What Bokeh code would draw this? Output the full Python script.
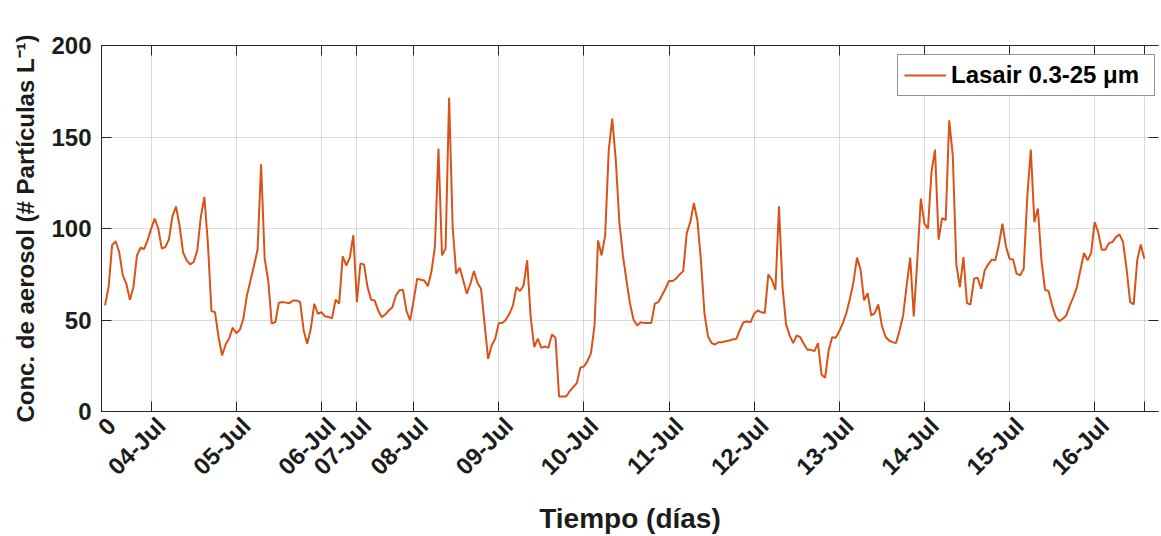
import math
from bokeh.plotting import figure
from bokeh.models import (FixedTicker, LinearAxis, Range1d, Legend, LegendItem,
                          CustomLabelingPolicy)
from bokeh.embed import file_html
from bokeh.resources import INLINE

# ---------------- data (hourly) ----------------
hours = list(range(1, 295))
conc = [
    58, 68, 91, 93, 87, 74.4, 69.8, 61, 68, 85.3,
    89.5, 88.8, 93.5, 99.9, 105.4, 100, 89, 89.9, 93.9, 106.8,
    112, 101.7, 87, 82.6, 80.4, 81.7, 88, 106.3, 117.2, 91.7,
    54.9, 54.3, 40.6, 30.6, 36.6, 40.1, 45.8, 42.8, 44.7, 50.7,
    63.4, 71.6, 79.8, 88.4, 135.1, 83.5, 71.6, 48, 48.8, 59.4,
    59.8, 59.5, 59.2, 60.7, 60.7, 59.8, 44.3, 37, 45.2, 58.9,
    53.4, 54.3, 52, 51.6, 51, 61.1, 58.9, 84.8, 79.8, 84,
    96.3, 59.8, 80.8, 80.4, 68, 61.1, 60.7, 55.2, 51.6, 53,
    55.2, 57, 63.4, 66.2, 66.5, 54.9, 49.8, 60.7, 72.6, 72,
    71.6, 68.4, 76.2, 89.9, 143.7, 85.3, 89, 171.4, 100.8, 75.3,
    78.6, 71.6, 64.4, 69.8, 76.7, 70.2, 67.1, 48, 28.8, 36.1,
    39.8, 48.3, 48.3, 50.1, 53.4, 58, 68, 65.8, 68.9, 82.6,
    51.6, 35.2, 39.8, 34.8, 35.5, 34.8, 42.1, 40.3, 8.2, 8.2,
    8.2, 11.1, 13.3, 15.5, 23.9, 24.6, 27.5, 31.9, 47, 93.5,
    85.3, 96.3, 142.7, 160, 137.3, 103.5, 85.3, 71.6, 58.9, 50.1,
    47, 48.8, 48.3, 48.3, 48.3, 58.9, 59.8, 63.4, 67.1, 71.3,
    71.3, 72.6, 74.9, 76.7, 97.5, 103.5, 113.9, 104.5, 82.6, 53.4,
    41, 37.4, 36.6, 37.9, 37.9, 38.4, 38.8, 39.4, 39.8, 44.7,
    48.8, 49.2, 48.8, 53.4, 55.2, 54.3, 53.8, 74.9, 72, 66.5,
    112.1, 68, 47.6, 41.6, 37.4, 41.6, 40.6, 37, 33.7, 33.7,
    33, 37.4, 20.2, 18.4, 33.4, 40.6, 40.3, 43.8, 48.3, 53.8,
    61.6, 70.7, 84.1, 77.5, 60.7, 64.7, 52.5, 53.8, 58.5, 47,
    41, 38.8, 37.9, 37.4, 44.3, 52.5, 68.9, 84.1, 52, 82.6,
    116.3, 102.7, 99.9, 130.9, 143.1, 93.9, 105.7, 104.5, 159.1, 140,
    80.4, 68, 84.4, 59.2, 58.5, 72.6, 73.1, 67.1, 77.1, 80.4,
    83, 82.6, 91.3, 102.7, 90.2, 83.5, 83, 75.3, 74.4, 78,
    117.2, 143.1, 103.5, 110.9, 82.6, 66.5, 65.8, 58, 52, 49.4,
    50.7, 52.5, 58, 62.5, 68, 77.5, 86.6, 82.6, 86.6, 103.5,
    98, 88.4, 88.4, 92, 92.6, 95.3, 96.8, 92.6, 78, 59.8,
    58.5, 82.6, 91.3, 83.5,
]

tick_hours = [0, 14, 38, 62, 72, 88, 112, 136, 160, 184, 208, 232, 256, 280, 294]
tick_labels = ["0", "04-Jul", "05-Jul", "06-Jul", "07-Jul", "08-Jul", "09-Jul",
               "10-Jul", "11-Jul", "12-Jul", "13-Jul", "14-Jul", "15-Jul",
               "16-Jul", ""]
y_ticks = [0, 50, 100, 150, 200]

series_label = "Lasair 0.3-25 \u03bcm"
x_title = "Tiempo (d\u00edas)"
y_title = "Conc. de aerosol (# Part\u00edculas L\u207b\u00b9)"

FONT = "Liberation Sans"
TXT = "#1c1c1c"
AX = "#262626"
LINE = "#D95319"

X_END = 298
FRAME_W = 1057
LABEL_SHIFT_PX = 10          # rotated tick labels sit a little right of their ticks
shift = LABEL_SHIFT_PX * X_END / FRAME_W


def hidden_labels():
    return CustomLabelingPolicy(code="for (const i of indices) { indices.unset(i) }\nreturn indices")


# ---------------- figure ----------------
p = figure(
    frame_width=FRAME_W, frame_height=366,
    min_border_left=101, min_border_top=45, min_border_bottom=125, min_border_right=3,
    x_range=Range1d(0, X_END), y_range=Range1d(0, 200),
    output_backend="svg", toolbar_location=None,
    background_fill_color="white", border_fill_color="white",
)
p.outline_line_color = None
p.extra_x_ranges = {"labels": Range1d(-shift, X_END - shift)}

r = p.line(hours, conc, line_color=LINE, line_width=2)

xt = FixedTicker(ticks=tick_hours)
yt = FixedTicker(ticks=y_ticks)

# primary x axis: line + inward ticks only
xa = p.xaxis[0]
xa.ticker = xt
xa.major_tick_in = 10
xa.major_tick_out = 0
xa.minor_tick_line_color = None
xa.axis_line_color = AX
xa.major_tick_line_color = AX
xa.major_label_text_font_size = "0px"
xa.major_label_standoff = 0
xa.major_label_policy = hidden_labels()

# label axis: rotated tick labels + title
xl = LinearAxis(x_range_name="labels", ticker=FixedTicker(ticks=tick_hours))
xl.major_label_overrides = {h: lab for h, lab in zip(tick_hours, tick_labels)}
xl.major_label_orientation = math.pi / 4
xl.axis_line_color = None
xl.major_tick_line_color = None
xl.minor_tick_line_color = None
xl.major_tick_in = 0
xl.major_tick_out = 0
xl.major_label_standoff = 10
xl.major_label_text_font = FONT
xl.major_label_text_font_style = "bold"
xl.major_label_text_font_size = "24px"
xl.major_label_text_color = TXT
xl.axis_label = x_title
xl.axis_label_text_font = FONT
xl.axis_label_text_font_style = "bold"
xl.axis_label_text_font_size = "28px"
xl.axis_label_text_color = TXT
xl.axis_label_standoff = 10
p.add_layout(xl, "below")

ya = p.yaxis[0]
ya.ticker = yt
ya.axis_label = y_title
ya.major_tick_in = 10
ya.major_tick_out = 0
ya.minor_tick_line_color = None
ya.axis_line_color = AX
ya.major_tick_line_color = AX
ya.major_label_text_font = FONT
ya.major_label_text_font_style = "bold"
ya.major_label_text_font_size = "24px"
ya.major_label_text_color = TXT
ya.axis_label_text_font = FONT
ya.axis_label_text_font_style = "bold"
ya.axis_label_text_font_size = "24px"
ya.axis_label_text_color = TXT
ya.major_label_standoff = 10
ya.axis_label_standoff = 9

# top and right box axes (ticks only)
top = LinearAxis(ticker=FixedTicker(ticks=tick_hours))
right = LinearAxis(ticker=FixedTicker(ticks=y_ticks))
for ax in (top, right):
    ax.major_tick_in = 10
    ax.major_tick_out = 0
    ax.minor_tick_line_color = None
    ax.major_tick_line_color = AX
    ax.major_label_text_font_size = "0px"
    ax.major_label_standoff = 0
    ax.major_label_policy = hidden_labels()
top.axis_line_color = AX
right.axis_line_color = None
p.add_layout(top, "above")
p.add_layout(right, "right")

p.xgrid.ticker = xt
p.ygrid.ticker = yt
for g in (p.xgrid, p.ygrid):
    g.grid_line_color = AX
    g.grid_line_alpha = 0.16
    g.grid_line_width = 1

legend = Legend(
    items=[LegendItem(label=series_label, renderers=[r])],
    location=(796, 315),
    label_text_font=FONT, label_text_font_style="bold", label_text_font_size="24px",
    label_text_color="black",
    border_line_color=AX, border_line_width=1,
    background_fill_color="white", background_fill_alpha=1,
    glyph_width=42, glyph_height=22, label_height=22, label_width=197,
    label_standoff=5, padding=6, spacing=0, margin=0,
)
p.add_layout(legend, "center")

open("out.html", "w").write(file_html(p, INLINE))
